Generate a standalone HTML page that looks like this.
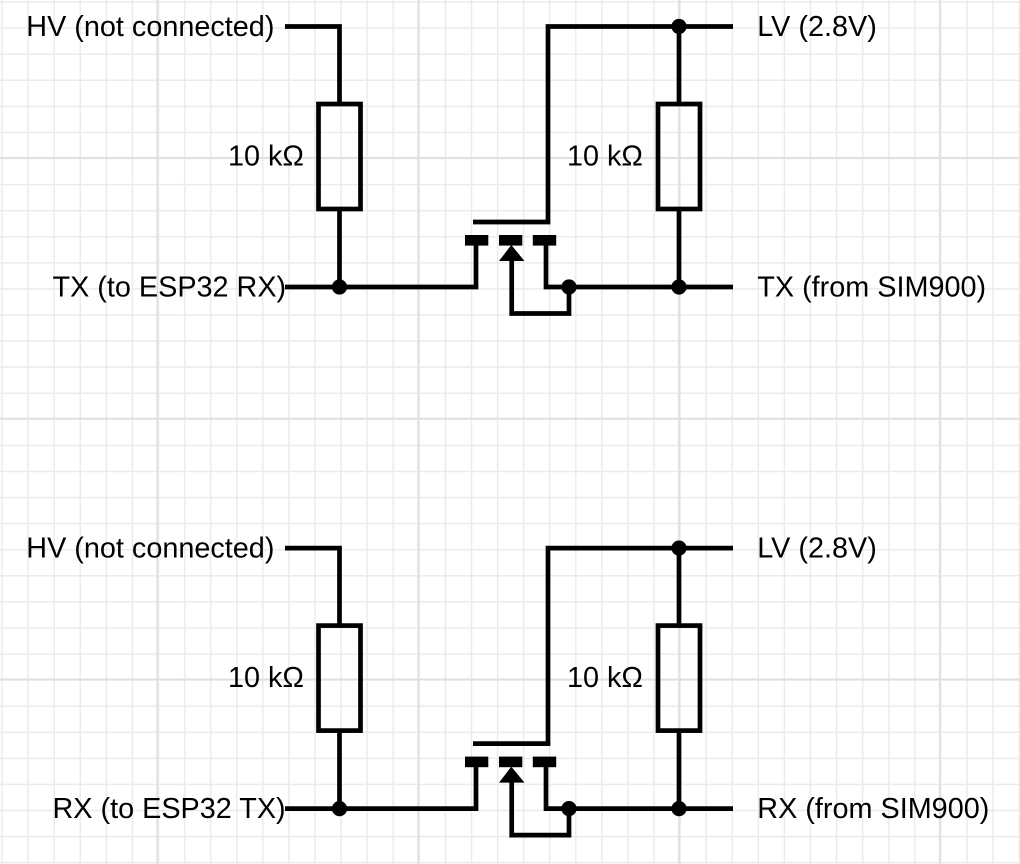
<!DOCTYPE html>
<html>
<head>
<meta charset="utf-8">
<style>
html,body{margin:0;padding:0;background:#fff;width:1020px;height:864px;overflow:hidden}
svg{display:block}
text{font-family:"Liberation Sans",Arial,sans-serif;font-size:28.8px;fill:#000}
</style>
</head>
<body>
<svg width="1020" height="864" viewBox="0 0 1020 864" xmlns="http://www.w3.org/2000/svg">
<defs>
<pattern id="minor" patternUnits="userSpaceOnUse" x="1.3" y="1.3" width="26.08" height="26.08">
<path d="M0.75 0V26.08M0 0.75H26.08" stroke="#ebebeb" stroke-width="1.5" fill="none"/>
</pattern>
<pattern id="major" patternUnits="userSpaceOnUse" x="156.5" y="157" width="260.8" height="260.8">
<path d="M0.75 0V260.8M0 0.75H260.8" stroke="#dedede" stroke-width="1.5" fill="none"/>
</pattern>
<g id="c">
<g fill="none" stroke="#000" stroke-width="4.7" stroke-linejoin="miter">
<path d="M285 26.5H339.5V104"/>
<rect x="318.5" y="104" width="42" height="105"/>
<path d="M339.5 209V287"/>
<path d="M285 287H476V245"/>
<path d="M473 222H548V26.5H733"/>
<rect x="658" y="104" width="42" height="105"/>
<path d="M679 26.5V104M679 209V287"/>
<path d="M546 245V287H733"/>
<path d="M569 287V313.5H511.7V258"/>
</g>
<g fill="#000">
<rect x="465" y="235" width="23.3" height="10.6"/>
<rect x="499" y="235" width="23.3" height="10.6"/>
<rect x="532.8" y="235" width="23.4" height="10.6"/>
<path d="M511.3 245L524.5 261H499Z"/>
<circle cx="339.5" cy="287" r="7.6"/>
<circle cx="569" cy="287" r="7.6"/>
<circle cx="679" cy="287" r="7.6"/>
<circle cx="679" cy="26.5" r="7.6"/>
</g>
</g>
</defs>
<rect width="1020" height="864" fill="#fff"/>
<rect width="1020" height="864" fill="url(#minor)"/>
<rect width="1020" height="864" fill="url(#major)"/>
<use href="#c"/>
<use href="#c" y="521.6"/>
<text x="26.3" y="36">HV (not connected)</text>
<text x="757.3" y="36">LV (2.8V)</text>
<text x="228" y="165.5">10 kΩ</text>
<text x="567" y="165.5">10 kΩ</text>
<text x="52.5" y="296.5">TX (to ESP32 RX)</text>
<text x="757.3" y="296.5">TX (from SIM900)</text>
<text x="26.3" y="557.5">HV (not connected)</text>
<text x="757.3" y="557.5">LV (2.8V)</text>
<text x="228" y="687">10 kΩ</text>
<text x="567" y="687">10 kΩ</text>
<text x="52.5" y="818">RX (to ESP32 TX)</text>
<text x="757.3" y="818">RX (from SIM900)</text>
</svg>
</body>
</html>
